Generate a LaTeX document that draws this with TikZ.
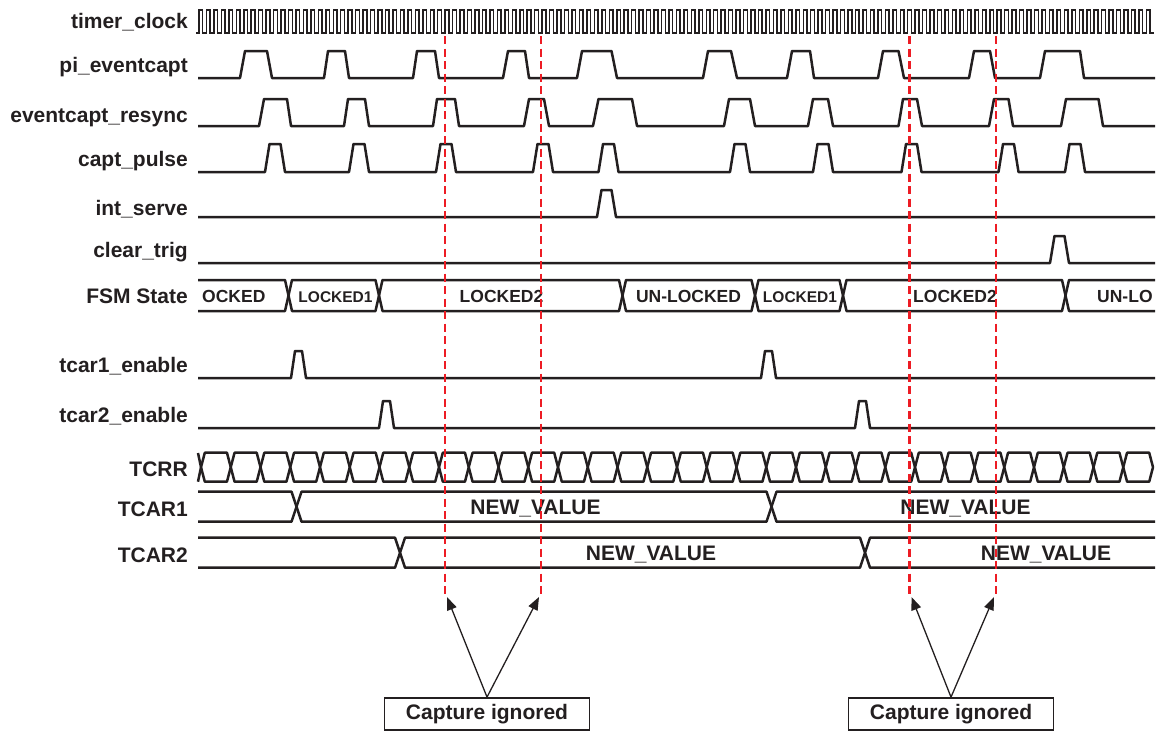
\documentclass[tikz,border=0pt]{standalone}
\usepackage{fontspec}
\setmainfont{Liberation Sans}
\usetikzlibrary{arrows.meta}
\definecolor{ink}{HTML}{231F20}
\definecolor{capred}{HTML}{ED1C24}
\newcommand\wavepulses[3]{%
  \draw[sig] (198,#1) \foreach \pa/\pb/\pc/\pd in {#3} { -- (\pa,#1) -- (\pb,#2) -- (\pc,#2) -- (\pd,#1) } -- (1155,#1);}
\newcommand\narrowpulses[5]{%
  \draw[sig] (198,#1) \foreach \pa in {#5} { -- (\pa,#1) -- ({\pa+#3},#2) -- ({\pa+#3+#4},#2) -- ({\pa+2*#3+#4},#1) } -- (1155,#1);}
% bus cell: #1 top, #2 bottom, #3 left crossing, #4 right crossing, #5 half width
\newcommand\buscell[5]{%
  \draw[sig] ({#3},{(#1+#2)/2}) -- ({#3+#5},#1) -- ({#4-#5},#1) -- ({#4},{(#1+#2)/2}) -- ({#4-#5},#2) -- ({#3+#5},#2) -- cycle;}
\newcommand\busstart[4]{% top bottom crossing half
  \draw[sig] (198,#1) -- ({#3-#4},#1) -- ({#3},{(#1+#2)/2}) -- ({#3-#4},#2) -- (198,#2);}
\newcommand\busend[4]{%
  \draw[sig] (1155,#1) -- ({#3+#4},#1) -- ({#3},{(#1+#2)/2}) -- ({#3+#4},#2) -- (1155,#2);}
\begin{document}
\begin{tikzpicture}[x=1pt,y=-1pt,
  sig/.style={draw=ink,line width=2.5pt,line join=round},
  clk/.style={draw=ink,line width=1.5pt},
  lab/.style={anchor=base east,text=ink,inner sep=0pt,font=\bfseries\fontsize{21}{24}\selectfont},
  fsmtxt/.style={anchor=base,text=ink,inner sep=0pt,font=\bfseries\fontsize{17.5}{20}\selectfont},
  fsmsmall/.style={anchor=base,text=ink,inner sep=0pt,font=\bfseries\fontsize{15.5}{18}\selectfont},
  valtxt/.style={anchor=base,text=ink,inner sep=0pt,font=\bfseries\fontsize{21}{24}\selectfont},
  capdash/.style={draw=capred,line width=2.2pt,dash pattern=on 8pt off 4.5pt},
  capbox/.style={draw=ink,line width=1.8pt,fill=white,minimum width=205pt,minimum height=32pt,inner sep=0pt,text=ink,font=\bfseries\fontsize{21}{24}\selectfont},
  arr/.style={draw=ink,line width=1.3pt,-{Triangle[length=13pt,width=10pt]}}]
\useasboundingbox (0,0) rectangle (1159,732);

% labels
\node[lab] (l1) at (188,28) {timer\_clock};
\node[lab] (l2) at (188,72) {pi\_eventcapt};
\node[lab] (l3) at (188,122) {eventcapt\_resync};
\node[lab] (l4) at (188,166) {capt\_pulse};
\node[lab] (l5) at (188,215) {int\_serve};
\node[lab] (l6) at (188,257) {clear\_trig};
\node[lab] (l7) at (188,303) {FSM State};
\node[lab] (l8) at (188,372) {tcar1\_enable};
\node[lab] (l9) at (188,422) {tcar2\_enable};
\node[lab] (l10) at (188,476) {TCRR};
\node[lab] (l11) at (188,516) {TCAR1};
\node[lab] (l12) at (188,562) {TCAR2};

% timer clock
\draw[clk] (196,33) -- (199,33) \foreach \i in {0,...,127} { -- ({199+\i*7.46},10) -- ({199+\i*7.46+3.73},10) -- ({199+\i*7.46+3.73},33) -- ({199+(\i+1)*7.46},33) };

% pi_eventcapt
\wavepulses{78}{51}{240/245/267/272, 324/328/345/349, 413/417/435/439, 503/508/525/529, 577/582/611.5/617, 703/708/731/737, 787/792/810/814, 878/883/898.5/904, 969/974/990/995, 1040/1045/1080/1084}
% eventcapt_resync
\wavepulses{126}{99}{259/264/287/291, 344/348/365/369, 433/437/455/459, 524/529/544/549, 593/598.5/632/637, 724/729/750/755, 808/813/828/833, 898.5/903/917/922, 989/994/1008.5/1013, 1061/1066/1098.5/1103}
% capt_pulse
\narrowpulses{172}{144}{4.5}{11}{265, 349, 436, 533, 598.5, 730, 813, 901.5, 998.5, 1065}
% int_serve
\narrowpulses{217}{190}{4.5}{10}{597}
% clear_trig
\narrowpulses{263}{236}{4.5}{10}{1050}

% FSM State bus
\busstart{280}{311}{288.5}{3.5}
\buscell{280}{311}{288.5}{379}{3.5}
\buscell{280}{311}{379}{622.5}{3.5}
\buscell{280}{311}{622.5}{755}{3.5}
\buscell{280}{311}{755}{843}{3.5}
\buscell{280}{311}{843}{1065.5}{3.5}
\busend{280}{311}{1065.5}{3.5}
\node[fsmtxt,anchor=base west] (f1) at (202,302.5) {OCKED};
\node[fsmsmall] (f2) at (335.5,302.5) {LOCKED1};
\node[fsmtxt] (f3) at (501.5,302.5) {LOCKED2};
\node[fsmtxt] (f4) at (688.5,302.5) {UN-LOCKED};
\node[fsmsmall] (f5) at (800,302.5) {LOCKED1};
\node[fsmtxt] (f6) at (955,302.5) {LOCKED2};
\node[fsmtxt,anchor=base west] (f7) at (1097,302.5) {UN-LO};

% tcar enables
\narrowpulses{378}{351}{4}{7}{291, 761}
\narrowpulses{428}{401}{4}{7}{379, 855}

% TCRR
\draw[sig] (198,453) -- (201,467.2) -- (198,481.7);
\foreach \k in {0,...,31} {
  \buscell{452.7}{481.7}{201+\k*29.75}{201+(\k+1)*29.75}{3.8}
}

% TCAR1
\busstart{491.7}{521.7}{296.5}{5}
\buscell{491.7}{521.7}{296.5}{771.5}{5}
\busend{491.7}{521.7}{771.5}{5}
\node[valtxt] (v1) at (535.5,514) {NEW\_VALUE};
\node[valtxt] (v2) at (965.5,514) {NEW\_VALUE};

% TCAR2
\busstart{537.7}{567.7}{400}{5}
\buscell{537.7}{567.7}{400}{865}{5}
\busend{537.7}{567.7}{865}{5}
\node[valtxt] (v3) at (651,560) {NEW\_VALUE};
\node[valtxt] (v4) at (1046,560) {NEW\_VALUE};

% dashed capture markers
\coordinate (d1t) at (445,36); \coordinate (d1b) at (445,594);
\coordinate (d2t) at (541,36); \coordinate (d2b) at (541,594);
\coordinate (d3t) at (909.5,36); \coordinate (d3b) at (909.5,594);
\coordinate (d4t) at (996,36); \coordinate (d4b) at (996,594);
\draw[capdash] (d1t) -- (d1b);
\draw[capdash] (d2t) -- (d2b);
\draw[capdash] (d3t) -- (d3b);
\draw[capdash] (d4t) -- (d4b);

% boxes and arrows
\node[capbox] (c1) at (487,714) {Capture ignored};
\node[capbox] (c2) at (951,714) {Capture ignored};
\coordinate (t1) at (447,597); \coordinate (t2) at (539,597);
\coordinate (t3) at (911.5,597); \coordinate (t4) at (994,597);
\draw[arr] (c1.north) -- (t1);
\draw[arr] (c1.north) -- (t2);
\draw[arr] (c2.north) -- (t3);
\draw[arr] (c2.north) -- (t4);
\end{tikzpicture}
\end{document}
